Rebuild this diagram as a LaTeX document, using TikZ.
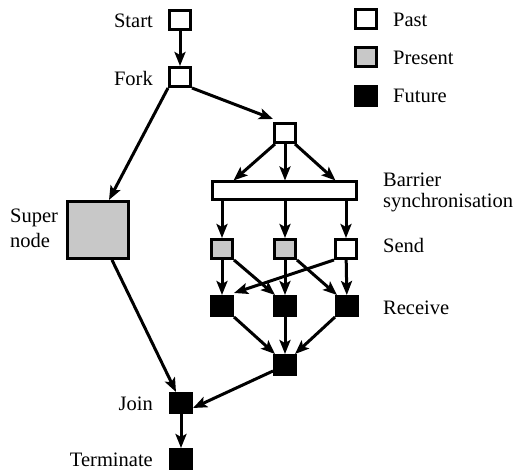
\documentclass[tikz,border=0pt]{standalone}
\usepackage{fontspec}
\setmainfont{Liberation Serif}
\usetikzlibrary{arrows.meta,calc}
\definecolor{presentgray}{RGB}{200,200,200}
\tikzset{
  state/.style={draw=black, line width=3pt, rectangle, inner sep=0pt,
    minimum width=21pt, minimum height=19pt},
  past/.style={state, fill=white},
  present/.style={state, fill=presentgray},
  future/.style={state, fill=black},
  flow/.style={line width=3pt, -{Stealth[length=14pt,width=11pt,inset=3pt]}},
  lbl/.style={inner sep=0pt, font=\fontsize{20.5pt}{25pt}\selectfont},
}
\begin{document}
\begin{tikzpicture}[x=1pt,y=-1pt]
\useasboundingbox (0,0) rectangle (515,473);

% legend
\node[past]    (lpast) at (366,19) {};
\node[present] (lpres) at (366,57) {};
\node[future]  (lfut)  at (366,96) {};
\node[lbl, anchor=base west] (tpast) at (393,27) {Past};
\node[lbl, anchor=base west] (tpres) at (393,65) {Present};
\node[lbl, anchor=base west] (tfut)  at (393,103) {Future};

% main flow
\node[past] (start) at (180,20) {};
\node[past] (fork)  at (180,77) {};
\node[present, minimum width=61pt, minimum height=57pt] (super) at (98,230) {};
\node[past] (par) at (285,133) {};
\node[past, minimum width=144pt, minimum height=18pt] (bar) at (284.5,191) {};

\node[present] (s1) at (222,249) {};
\node[present] (s2) at (285,249) {};
\node[past]    (s3) at (346,249) {};

\node[future] (r1) at (222,306) {};
\node[future] (r2) at (285,306) {};
\node[future] (r3) at (347,306) {};

\node[future] (merge) at (285,365) {};
\node[future] (join)  at (181,403) {};
\node[future] (term)  at (181,459) {};

% labels
\node[lbl, anchor=base east] (tstart) at (153,28) {Start};
\node[lbl, anchor=base east] (tfork)  at (153,86) {Fork};
\node[lbl, anchor=base west] (tsup1)  at (10,223) {Super};
\node[lbl, anchor=base west] (tsup2)  at (10,248) {node};
\node[lbl, anchor=base west] (tbar1)  at (383,187) {Barrier};
\node[lbl, anchor=base west] (tbar2)  at (383,208) {synchronisation};
\node[lbl, anchor=base west] (tsend)  at (383,253) {Send};
\node[lbl, anchor=base west] (trecv)  at (383,315) {Receive};
\node[lbl, anchor=base east] (tjoin)  at (153,411) {Join};
\node[lbl, anchor=base east] (tterm)  at (153,467) {Terminate};

% connectors
\draw[flow] (start) -- (fork);
\draw[flow] (fork.south west) -- ([xshift=11pt]super.north);
\draw[flow] (fork.south east) -- ([yshift=3pt]par.north west);
\draw[flow] ([xshift=2pt]par.south west) -- ([xshift=-51pt]bar.north);
\draw[flow] (par) -- (par |- bar.north);
\draw[flow] ([xshift=-2pt]par.south east) -- ([xshift=51pt]bar.north);
\draw[flow] (bar.south -| s1) -- (s1);
\draw[flow] (bar.south -| s2) -- (s2);
\draw[flow] (bar.south -| s3) -- (s3);
\draw[flow] (s1) -- (r1);
\draw[flow] (s2) -- (r2);
\draw[flow] (s3) -- (r3);
\draw[flow] (s1.south east) -- ([xshift=2pt]r2.north west);
\draw[flow] (s2.south east) -- ([xshift=2pt]r3.north west);
\draw[flow] (s3.south west) -- ([yshift=2pt]r1.north east);
\draw[flow] (r1.south east) -- ([xshift=2pt]merge.north west);
\draw[flow] (r2) -- (merge);
\draw[flow] (r3.south west) -- ([xshift=-2pt]merge.north east);
\draw[flow] ([xshift=14pt]super.south) -- ([xshift=-5pt]join.north);
\draw[flow] ([yshift=-6pt]merge.west) -- ([yshift=-5pt]join.east);
\draw[flow] (join) -- (term);
\end{tikzpicture}
\end{document}
